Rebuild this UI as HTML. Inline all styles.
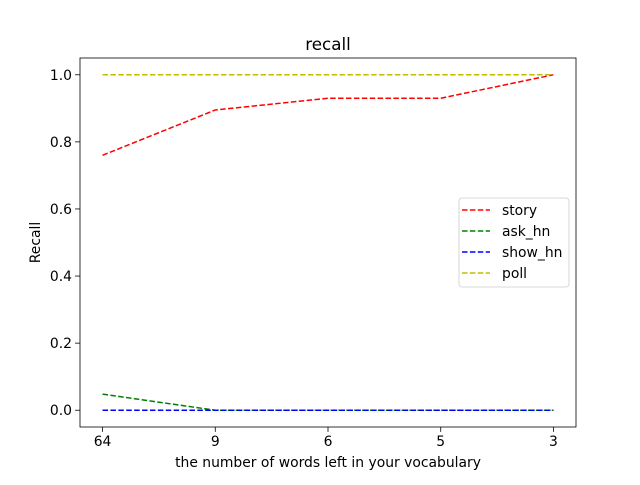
<!DOCTYPE html>
<html><head><meta charset="utf-8"><style>
body{margin:0;background:#fff;}
svg text{font-family:"DejaVu Sans","Liberation Sans",sans-serif;fill:#000;}
</style></head><body>
<svg id="chart" width="640" height="480" xmlns="http://www.w3.org/2000/svg">
<rect width="640" height="480" fill="#fff"/>
<g id="plot"></g>
</svg>
<script>
const categories = ["64","9","6","5","3"];
const story = [0.76,0.895,0.93,0.93,1.0];
const askHn = [0.048,0,0,0,0];
const showHn = [0,0,0,0,0];
const poll = [1,1,1,1,1];
const yTicks = [0.0,0.2,0.4,0.6,0.8,1.0];
const seriesNames = ["story","ask_hn","show_hn","poll"];
const seriesColors = ["#ff0000","#008000","#0000ff","#bfbf00"];

const L=80,R=576,T=58,B=427;
const xMin=-0.2,xMax=categories.length-1+0.2,yMin=-0.05,yMax=1.05;
const x=i=>L+(i-xMin)/(xMax-xMin)*(R-L);
const y=v=>B-(v-yMin)/(yMax-yMin)*(B-T);
const NS="http://www.w3.org/2000/svg";
const g=document.getElementById('plot');
function mk(t,a,txt){const e=document.createElementNS(NS,t);for(const k in a)e.setAttribute(k,a[k]);if(txt!==undefined)e.textContent=txt;g.appendChild(e);return e;}

[story,askHn,showHn,poll].forEach((s,si)=>{
  const e=mk('polyline',{points:s.map((v,i)=>x(i)+','+y(v)).join(' '),fill:'none',stroke:seriesColors[si],'stroke-width':1.5,'stroke-dasharray':'5.5,2.4'});
  
  
});

let f=mk('rect',{x:L,y:T,width:R-L,height:B-T,fill:'none',stroke:'#000','stroke-width':0.8});



categories.forEach((c,i)=>{
  mk('line',{x1:x(i),x2:x(i),y1:B,y2:B+4.9,stroke:'#000','stroke-width':0.8});
  const t=mk('text',{x:x(i),y:B+19,'text-anchor':'middle','font-size':13.9},c);
  
  
});
yTicks.forEach(v=>{
  mk('line',{x1:L-4.9,x2:L,y1:y(v),y2:y(v),stroke:'#000','stroke-width':0.8});
  const t=mk('text',{x:L-8,y:y(v)+5,'text-anchor':'end','font-size':13.9},v.toFixed(1));
  
  
});
let t=mk('text',{x:(L+R)/2,y:50,'text-anchor':'middle','font-size':16.7},'recall');


t=mk('text',{x:(L+R)/2,y:467,'text-anchor':'middle','font-size':13.9},'the number of words left in your vocabulary');


t=mk('text',{x:40,y:(T+B)/2,'text-anchor':'middle','font-size':13.9,transform:'rotate(-90 40 '+((T+B)/2)+')'},'Recall');



let lg=mk('rect',{x:459,y:198,width:110,height:89,rx:3,fill:'#fff','fill-opacity':0.8,stroke:'#ccc','stroke-width':0.8});


seriesNames.forEach((n,i)=>{
  const yy=210+i*21;
  const l=mk('line',{x1:462,x2:490,y1:yy,y2:yy,stroke:seriesColors[i],'stroke-width':1.5,'stroke-dasharray':'5.5,2.4'});
  
  
  const tt=mk('text',{x:502,y:yy+5,'font-size':13.9},n);
  
  
});
</script>
</body></html>
